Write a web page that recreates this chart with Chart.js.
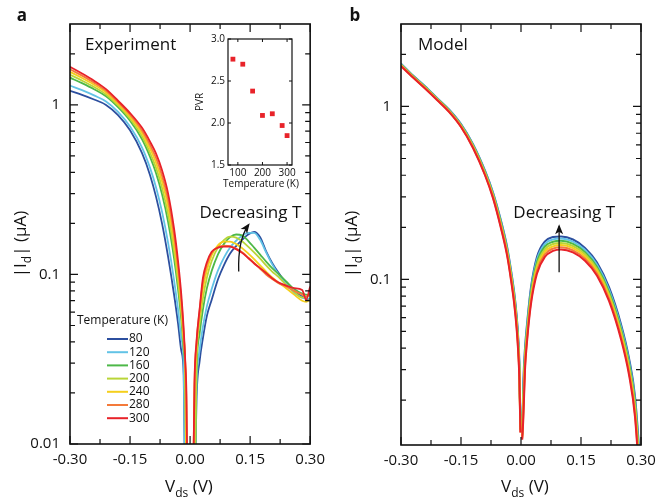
<!DOCTYPE html>
<html>
<head>
<meta charset="utf-8">
<script src="https://cdn.jsdelivr.net/npm/chart.js@4.4.1/dist/chart.umd.min.js"></script>
<style>
  html, body { margin:0; padding:0; background:#fff; }
  #wrap { position:relative; width:664px; height:499px; overflow:hidden; background:#fff; }
  #wrap canvas { position:absolute; }
</style>
</head>
<body>
<div id="wrap">
  <canvas id="panelA" width="332" height="499" style="left:0;top:0;width:332px;height:499px"></canvas>
  <canvas id="panelB" width="332" height="499" style="left:332px;top:0;width:332px;height:499px"></canvas>
  <canvas id="inset" width="125" height="165" style="left:185px;top:28px;width:125px;height:165px"></canvas>
</div>
<script>
// ---------------- DATA ----------------
const curveTemperatures = [80, 120, 160, 200, 240, 280, 300];

// Panel a: Experiment, |Id| (uA) vs Vds (V)
const expVoltage = [-0.30,-0.27,-0.24,-0.21,-0.18,-0.15,-0.12,-0.10,-0.085,-0.07,-0.055,-0.04,-0.03,-0.022,-0.016,-0.012,-0.009,-0.006,
  0,
  0.007,0.011,0.016,0.024,0.032,0.042,0.054,0.07,0.085,0.10,0.115,0.13,0.145,0.16,0.175,0.19,0.205,0.22,0.24,0.26,0.28,0.29,0.30];
const expCurrent80 = [1.211,1.146,1.076,1.0,0.871,0.708,0.519,0.385,0.2867,0.1995,0.1274,0.0759,0.0513,0.0355,0.0255,0.004,null,null,
  null,
  null,0.004,0.018,0.031,0.042,0.057,0.071,0.094,0.114,0.133,0.147,0.160,0.172,0.178,0.166,0.137,0.117,0.103,0.089,0.079,0.074,0.072,0.070];
const expCurrent120 = [1.300,1.221,1.138,1.048,0.909,0.745,0.560,0.425,0.326,0.234,0.1539,0.0924,0.0618,0.042,0.0292,0.004,null,null,
  null,
  null,0.004,0.021,0.036,0.049,0.065,0.082,0.106,0.126,0.144,0.158,0.169,0.176,0.176,0.160,0.135,0.115,0.101,0.088,0.078,0.073,0.072,0.072];
const expCurrent160 = [1.448,1.344,1.238,1.124,0.969,0.806,0.627,0.494,0.396,0.297,0.2045,0.1242,0.0817,0.0541,0.036,0.0243,0.004,null,
  null,
  null,0.004,0.026,0.045,0.062,0.083,0.105,0.132,0.152,0.166,0.172,0.170,0.158,0.144,0.131,0.119,0.109,0.101,0.091,0.082,0.077,0.076,0.075];
const expCurrent200 = [1.506,1.391,1.276,1.153,0.992,0.828,0.653,0.522,0.425,0.324,0.2268,0.1382,0.0905,0.0593,0.0388,0.0257,0.004,null,
  null,
  null,0.004,0.030,0.052,0.072,0.096,0.120,0.145,0.160,0.167,0.165,0.157,0.146,0.135,0.124,0.113,0.104,0.097,0.087,0.079,0.073,0.074,0.076];
const expCurrent240 = [1.565,1.441,1.316,1.184,1.016,0.852,0.681,0.552,0.456,0.353,0.2515,0.1539,0.1002,0.065,0.0418,0.0282,0.004,null,
  null,
  0.004,0.020,0.036,0.058,0.082,0.106,0.130,0.149,0.156,0.156,0.151,0.143,0.133,0.123,0.113,0.104,0.096,0.090,0.083,0.076,0.070,0.069,0.071];
const expCurrent280 = [1.623,1.488,1.353,1.211,1.038,0.875,0.707,0.580,0.486,0.382,0.2764,0.1699,0.1099,0.0707,0.0448,0.0295,0.0166,0.004,
  null,
  0.004,0.022,0.039,0.062,0.090,0.114,0.134,0.145,0.148,0.147,0.142,0.135,0.126,0.117,0.108,0.100,0.094,0.089,0.085,0.080,0.076,0.074,0.077];
const expCurrent300 = [1.676,1.531,1.388,1.238,1.058,0.895,0.732,0.607,0.516,0.411,0.301,0.186,0.1196,0.0763,0.0478,0.0308,0.0192,0.004,
  null,
  0.004,0.023,0.040,0.063,0.095,0.118,0.136,0.144,0.146,0.146,0.141,0.134,0.125,0.116,0.109,0.102,0.095,0.090,0.086,0.083,0.081,0.071,0.085];

// Panel b: Model
const modelVoltage = [-0.30,-0.27,-0.24,-0.21,-0.18,-0.15,-0.12,-0.09,-0.07,-0.05,-0.035,-0.025,-0.017,-0.011,-0.007,-0.004,-0.0015,
  0,
  0.003,0.006,0.01,0.016,0.025,0.04,0.06,0.08,0.10,0.13,0.16,0.19,0.22,0.25,0.27,0.285,0.30];
const modelCurrent80 = [1.77,1.51,1.31,1.12,0.96,0.79,0.605,0.425,0.318,0.218,0.155,0.113,0.084,0.062,0.046,0.032,0.014,
  null,
  0.013,0.026,0.040,0.058,0.090,0.135,0.166,0.1755,0.177,0.170,0.152,0.125,0.090,0.055,0.035,0.021,0.0074];
const modelCurrent120 = [1.760,1.503,1.303,1.115,0.955,0.785,0.600,0.421,0.314,0.2145,0.152,0.111,0.082,0.0603,0.0447,0.031,0.014,
  null,
  0.0128,0.0240,0.0381,0.0558,0.0867,0.1301,0.1604,0.1702,0.1720,0.1651,0.1477,0.1214,0.0873,0.0532,0.0337,0.0201,0.0069];
const modelCurrent160 = [1.750,1.496,1.296,1.110,0.950,0.780,0.595,0.417,0.310,0.211,0.149,0.108,0.080,0.0587,0.0433,0.030,0.014,
  null,
  0.0126,0.0221,0.0363,0.0537,0.0836,0.1253,0.1550,0.1650,0.1671,0.1604,0.1436,0.1179,0.0847,0.0514,0.0325,0.0192,0.0065];
const modelCurrent200 = [1.740,1.490,1.290,1.105,0.945,0.775,0.590,0.413,0.307,0.2075,0.1465,0.106,0.078,0.057,0.042,0.029,0.0135,
  null,
  0.0124,0.0204,0.0346,0.0517,0.0805,0.1207,0.1497,0.1600,0.1624,0.1559,0.1395,0.1146,0.0822,0.0497,0.0313,0.0183,0.0061];
const modelCurrent240 = [1.730,1.483,1.283,1.100,0.940,0.770,0.585,0.408,0.303,0.204,0.144,0.104,0.076,0.0553,0.0407,0.028,0.0135,
  null,
  0.0122,0.0188,0.0330,0.0497,0.0776,0.1163,0.1446,0.1552,0.1578,0.1515,0.1356,0.1113,0.0797,0.0481,0.0302,0.0175,0.0057];
const modelCurrent280 = [1.720,1.477,1.277,1.095,0.935,0.765,0.580,0.404,0.299,0.2005,0.141,0.101,0.074,0.0537,0.0393,0.027,0.013,
  null,
  0.012,0.01735,0.0315,0.0478,0.0747,0.1121,0.1397,0.1505,0.1533,0.1472,0.1317,0.1081,0.0773,0.0465,0.0291,0.0167,0.0053];
const modelCurrent300 = [1.71,1.47,1.27,1.09,0.93,0.76,0.575,0.40,0.295,0.197,0.138,0.099,0.072,0.052,0.038,0.026,0.013,
  null,
  0.0118,0.016,0.030,0.046,0.072,0.108,0.135,0.146,0.149,0.143,0.128,0.105,0.075,0.045,0.028,0.016,0.005];

// Inset: peak-to-valley ratio vs temperature
const pvrTemperature = [80, 120, 160, 200, 240, 280, 300];
const pvrValue = [2.76, 2.70, 2.38, 2.09, 2.11, 1.97, 1.85];

// Tick values
const xMajorTicks = [-0.30, -0.15, 0, 0.15, 0.30];
const xMinorTicks = [-0.225, -0.075, 0.075, 0.225];
const expYTicks = [0.01, 0.1, 1];
const modelYTicks = [0.1, 1];
const insetXTicks = [100, 200, 300];
const insetYTicks = [1.5, 2.0, 2.5, 3.0];

// ---------------- STYLE ----------------
const curveColors = ['#2c4f9f', '#62c3e6', '#4db848', '#b9d538', '#f5cf1c', '#f47a3a', '#e82229'];
const FONT = "'Open Sans', 'DejaVu Sans', sans-serif";
Chart.defaults.font.family = FONT;
Chart.defaults.color = '#111';

function minorLogTicks(min, max) {
  const out = [];
  for (let e = -3; e <= 1; e++) {
    const d = Math.pow(10, e);
    for (let m = 2; m <= 9; m++) {
      const v = m * d;
      if (v > min * 1.0001 && v < max * 0.9999) out.push(v);
    }
  }
  return out;
}

function drawRich(ctx, parts, x, y, size, align) {
  ctx.textBaseline = 'middle';
  ctx.textAlign = 'left';
  const subSize = Math.round(size * 0.68);
  let total = 0;
  parts.forEach(p => { ctx.font = (p[1] ? subSize : size) + 'px ' + FONT; total += ctx.measureText(p[0]).width; });
  let cx = align === 'center' ? x - total / 2 : x;
  parts.forEach(p => {
    ctx.font = (p[1] ? subSize : size) + 'px ' + FONT;
    ctx.fillText(p[0], cx, y + (p[1] ? size * 0.38 : 0));
    cx += ctx.measureText(p[0]).width;
  });
}

function drawArrow(ctx, p0, c, p1) {
  ctx.beginPath();
  ctx.moveTo(p0[0], p0[1]);
  if (c) ctx.quadraticCurveTo(c[0], c[1], p1[0], p1[1]); else ctx.lineTo(p1[0], p1[1]);
  ctx.stroke();
  const from = c || p0;
  const ang = Math.atan2(p1[1] - from[1], p1[0] - from[0]);
  const L = 8, W = 4;
  ctx.beginPath();
  ctx.moveTo(p1[0] + Math.cos(ang) * 2, p1[1] + Math.sin(ang) * 2);
  ctx.lineTo(p1[0] - Math.cos(ang) * L + Math.cos(ang + Math.PI / 2) * W, p1[1] - Math.sin(ang) * L + Math.sin(ang + Math.PI / 2) * W);
  ctx.lineTo(p1[0] - Math.cos(ang) * (L - 2.5), p1[1] - Math.sin(ang) * (L - 2.5));
  ctx.lineTo(p1[0] - Math.cos(ang) * L - Math.cos(ang + Math.PI / 2) * W, p1[1] - Math.sin(ang) * L - Math.sin(ang + Math.PI / 2) * W);
  ctx.closePath();
  ctx.fill();
}

function framePlugin(yMin, yMax, yMajor) {
  return {
    id: 'frame',
    afterDatasetsDraw(chart) {
      const { ctx, chartArea: a, scales } = chart;
      const x = scales.x, y = scales.y;
      ctx.save();
      ctx.strokeStyle = '#111';
      ctx.lineWidth = 1.2;
      ctx.beginPath();
      const tickX = (v, len) => {
        const px = x.getPixelForValue(v);
        ctx.moveTo(px, a.bottom); ctx.lineTo(px, a.bottom - len);
        ctx.moveTo(px, a.top); ctx.lineTo(px, a.top + len);
      };
      const tickY = (v, len) => {
        const py = y.getPixelForValue(v);
        ctx.moveTo(a.left, py); ctx.lineTo(a.left + len, py);
        ctx.moveTo(a.right, py); ctx.lineTo(a.right - len, py);
      };
      xMajorTicks.forEach(v => tickX(v, 8));
      xMinorTicks.forEach(v => tickX(v, 5));
      yMajor.forEach(v => tickY(v, 8));
      minorLogTicks(yMin, yMax).forEach(v => tickY(v, 5));
      ctx.stroke();
      ctx.lineWidth = 1.6;
      ctx.strokeRect(a.left, a.top, a.width, a.height);
      ctx.restore();
    }
  };
}

function annotationPlugin(draw) {
  return { id: 'annot', afterDraw(chart) { const ctx = chart.ctx; ctx.save(); ctx.fillStyle = '#111'; ctx.strokeStyle = '#111'; draw(chart, ctx); ctx.restore(); } };
}

function buildPanel(canvasId, voltages, currents, geom, plugins) {
  const datasets = currents.map((arr, k) => ({
    label: curveTemperatures[k] + ' K',
    data: voltages.map((v, i) => ({ x: v, y: arr[i] })),
    borderColor: curveColors[k],
    backgroundColor: curveColors[k],
    borderWidth: geom.lineWidth,
    pointRadius: 0,
    fill: false,
    spanGaps: false,
    cubicInterpolationMode: 'monotone',
    order: currents.length - k
  }));
  return new Chart(document.getElementById(canvasId), {
    type: 'line',
    data: { datasets },
    options: {
      responsive: false, animation: false, devicePixelRatio: 1,
      layout: { padding: { top: geom.top, right: geom.padRight, left: 0, bottom: 0 } },
      plugins: { legend: { display: false }, tooltip: { enabled: false } },
      scales: {
        x: {
          type: 'linear', min: -0.3, max: 0.3,
          afterBuildTicks: s => { s.ticks = xMajorTicks.map(v => ({ value: v })); },
          afterFit: s => { s.height = geom.xHeight; },
          grid: { display: false, drawTicks: false }, border: { display: false },
          ticks: { callback: v => v.toFixed(2), padding: 7, font: { size: 15 }, color: '#111', autoSkip: false, maxRotation: 0 }
        },
        y: {
          type: 'logarithmic', min: geom.yMin, max: 3,
          afterBuildTicks: s => { s.ticks = geom.yTicks.map(v => ({ value: v })); },
          afterFit: s => { s.width = geom.yWidth; },
          grid: { display: false, drawTicks: false }, border: { display: false },
          ticks: { callback: v => String(v), padding: 10, font: { size: 15 }, color: '#111', autoSkip: false }
        }
      }
    },
    plugins: [framePlugin(geom.yMin, 3, geom.yTicks)].concat(plugins)
  });
}

// ---------- Panel a ----------
const arrowExp = { from: [0.1215, 0.104], ctrl: [0.119, 0.160], to: [0.146, 0.196] };
const arrowModel = { from: [0.0953, 0.1098], to: [0.0953, 0.203] };

buildPanel('panelA', expVoltage,
  [expCurrent80, expCurrent120, expCurrent160, expCurrent200, expCurrent240, expCurrent280, expCurrent300],
  { top: 24, padRight: 21, xHeight: 55, yWidth: 70, yMin: 0.01, yTicks: expYTicks, lineWidth: 1.8 },
  [annotationPlugin((chart, ctx) => {
    const a = chart.chartArea, x = chart.scales.x, y = chart.scales.y;
    const P = d => [x.getPixelForValue(d[0]), y.getPixelForValue(d[1])];
    ctx.font = 'bold 17px ' + FONT; ctx.textAlign = 'center'; ctx.textBaseline = 'middle';
    ctx.fillText('a', 22, 16);
    ctx.font = '17px ' + FONT; ctx.textAlign = 'left';
    ctx.fillText('Experiment', a.left + 15, 45);
    ctx.textAlign = 'center';
    ctx.fillText('Decreasing T', x.getPixelForValue(0.1506), y.getPixelForValue(0.2307));
    ctx.lineWidth = 1.3;
    drawArrow(ctx, P(arrowExp.from), P(arrowExp.ctrl), P(arrowExp.to));
    // axis titles
    drawRich(ctx, [['V', 0], ['ds', 1], [' (V)', 0]], 189, 487, 17, 'center');
    ctx.save(); ctx.translate(21, 244); ctx.rotate(-Math.PI / 2);
    drawRich(ctx, [['|I', 0], ['d', 1], ['| (\u03bcA)', 0]], 0, 0, 17, 'center');
    ctx.restore();
    // legend
    ctx.font = '12px ' + FONT; ctx.textAlign = 'left'; ctx.textBaseline = 'middle';
    ctx.fillText('Temperature (K)', 77, 321);
    curveTemperatures.forEach((t, k) => {
      const ly = 339 + k * 13.2;
      ctx.strokeStyle = curveColors[k]; ctx.lineWidth = 2;
      ctx.beginPath(); ctx.moveTo(107, ly); ctx.lineTo(128, ly); ctx.stroke();
      ctx.fillText(String(t), 129, ly);
    });
  })]);

// ---------- Panel b ----------
buildPanel('panelB', modelVoltage,
  [modelCurrent80, modelCurrent120, modelCurrent160, modelCurrent200, modelCurrent240, modelCurrent280, modelCurrent300],
  { top: 24, padRight: 23, xHeight: 54, yWidth: 69, yMin: 0.011, yTicks: modelYTicks, lineWidth: 2 },
  [annotationPlugin((chart, ctx) => {
    const a = chart.chartArea, x = chart.scales.x, y = chart.scales.y;
    const P = d => [x.getPixelForValue(d[0]), y.getPixelForValue(d[1])];
    ctx.font = 'bold 17px ' + FONT; ctx.textAlign = 'center'; ctx.textBaseline = 'middle';
    ctx.fillText('b', 23, 16);
    ctx.font = '17px ' + FONT; ctx.textAlign = 'left';
    ctx.fillText('Model', a.left + 17, 45);
    ctx.textAlign = 'center';
    ctx.fillText('Decreasing T', x.getPixelForValue(0.108), y.getPixelForValue(0.2406));
    ctx.lineWidth = 1.3;
    drawArrow(ctx, P(arrowModel.from), null, P(arrowModel.to));
    drawRich(ctx, [['V', 0], ['ds', 1], [' (V)', 0]], 193, 487, 17, 'center');
    ctx.save(); ctx.translate(20, 244); ctx.rotate(-Math.PI / 2);
    drawRich(ctx, [['|I', 0], ['d', 1], ['| (\u03bcA)', 0]], 0, 0, 17, 'center');
    ctx.restore();
  })]);

// ---------- Inset ----------
new Chart(document.getElementById('inset'), {
  type: 'scatter',
  data: { datasets: [{
    label: 'PVR',
    data: pvrTemperature.map((t, i) => ({ x: t, y: pvrValue[i] })),
    pointStyle: 'rect', pointRadius: 3.4, borderWidth: 0,
    backgroundColor: '#e8232a', borderColor: '#e8232a'
  }] },
  options: {
    responsive: false, animation: false, devicePixelRatio: 1,
    layout: { padding: { top: 11, right: 18, left: 0, bottom: 0 } },
    plugins: { legend: { display: false }, tooltip: { enabled: false } },
    scales: {
      x: {
        type: 'linear', min: 60, max: 320,
        afterBuildTicks: s => { s.ticks = insetXTicks.map(v => ({ value: v })); },
        afterFit: s => { s.height = 28; },
        grid: { display: false, drawTicks: false }, border: { display: false },
        ticks: { font: { size: 10 }, padding: 2, color: '#111', autoSkip: false, maxRotation: 0, callback: v => String(v) }
      },
      y: {
        type: 'linear', min: 1.5, max: 3.0,
        afterBuildTicks: s => { s.ticks = insetYTicks.map(v => ({ value: v })); },
        afterFit: s => { s.width = 43; },
        grid: { display: false, drawTicks: false }, border: { display: false },
        ticks: { font: { size: 10 }, padding: 3, color: '#111', autoSkip: false, callback: v => v.toFixed(1) }
      }
    }
  },
  plugins: [{
    id: 'insetFrame',
    afterDatasetsDraw(chart) {
      const { ctx, chartArea: a, scales: { x, y } } = chart;
      ctx.save();
      ctx.strokeStyle = '#111'; ctx.lineWidth = 1;
      ctx.beginPath();
      insetXTicks.forEach(v => { const px = x.getPixelForValue(v); ctx.moveTo(px, a.bottom); ctx.lineTo(px, a.bottom - 3); ctx.moveTo(px, a.top); ctx.lineTo(px, a.top + 3); });
      insetYTicks.forEach(v => { const py = y.getPixelForValue(v); ctx.moveTo(a.left, py); ctx.lineTo(a.left + 3, py); ctx.moveTo(a.right, py); ctx.lineTo(a.right - 3, py); });
      ctx.stroke();
      ctx.lineWidth = 1.2;
      ctx.strokeRect(a.left, a.top, a.width, a.height);
      ctx.fillStyle = '#111';
      ctx.font = '10px ' + FONT; ctx.textAlign = 'center'; ctx.textBaseline = 'middle';
      ctx.fillText('Temperature (K)', (a.left + a.right) / 2 + 1, 156);
      ctx.save(); ctx.translate(15, (a.top + a.bottom) / 2); ctx.rotate(-Math.PI / 2);
      ctx.fillText('PVR', 0, 0);
      ctx.restore();
      ctx.restore();
    }
  }]
});
</script>
</body>
</html>
